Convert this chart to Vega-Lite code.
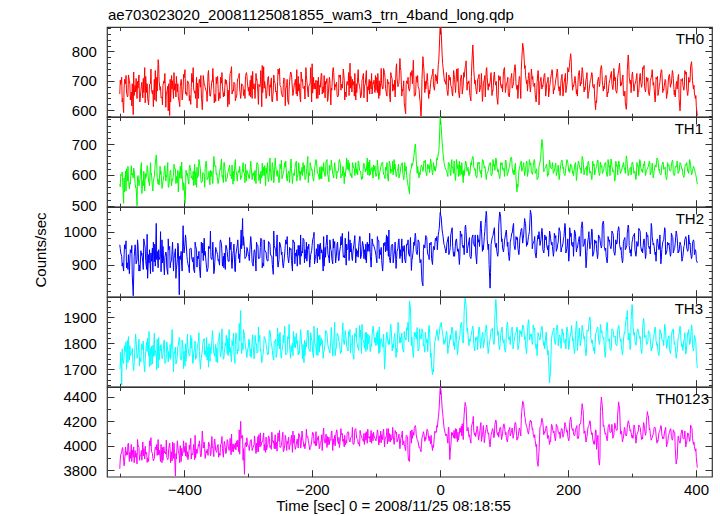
{
"padding": {"left": 33, "top": 7, "right": 8, "bottom": 5},
"background": "white",
"spacing": 0,
"bounds": "flush",
"title": {"text": "ae703023020_20081125081855_wam3_trn_4band_long.qdp", "anchor": "start", "frame": "group", "baseline": "alphabetic", "offset": -9, "dx": 1},
"config": {
 "font": "Liberation Sans",
 "view": {"stroke": "#333", "strokeWidth": 1.2},
 "axis": {"domain": false, "grid": false, "tickColor": "#333", "tickWidth": 1, "labelFont": "Liberation Sans", "labelFontSize": 15, "labelColor": "#000", "titleFont": "Liberation Sans", "titleFontSize": 15, "titleFontWeight": "normal", "titleColor": "#000"},
 "title": {"font": "Liberation Sans", "fontSize": 15, "fontWeight": "normal", "color": "#000"}
},
"data": {"values": [
{"t":-501,"a":655,"b":570,"c":960,"d":1700,"e":3810},
{"t":-498,"a":712,"b":598,"c":925,"d":1640,"e":3950},
{"t":-495,"a":592,"b":508,"c":880,"d":1722,"e":3880},
{"t":-492,"a":690,"b":612,"c":948,"d":1768,"e":3990},
{"t":-489,"a":645,"b":580,"c":905,"d":1810,"e":3925},
{"t":-486,"a":700,"b":555,"c":872,"d":1735,"e":3870},
{"t":-483,"a":662,"b":630,"c":935,"d":1760,"e":4010},
{"t":-480,"a":585,"b":590,"c":805,"d":1700,"e":3905},
{"t":-477,"a":685,"b":572,"c":960,"d":1795,"e":3960},
{"t":-474,"a":640,"b":500,"c":915,"d":1742,"e":3850},
{"t":-471,"a":720,"b":565,"c":880,"d":1815,"e":3985},
{"t":-468,"a":668,"b":625,"c":942,"d":1728,"e":3920},
{"t":-465,"a":642,"b":582,"c":905,"d":1775,"e":4030},
{"t":-462,"a":745,"b":548,"c":960,"d":1690,"e":3890},
{"t":-459,"a":660,"b":600,"c":885,"d":1805,"e":3945},
{"t":-456,"a":618,"b":578,"c":930,"d":1750,"e":3870},
{"t":-453,"a":690,"b":640,"c":872,"d":1780,"e":4000},
{"t":-450,"a":655,"b":560,"c":950,"d":1720,"e":3935},
{"t":-447,"a":705,"b":595,"c":908,"d":1838,"e":3895},
{"t":-444,"a":630,"b":665,"c":1025,"d":1755,"e":3965},
{"t":-441,"a":772,"b":570,"c":890,"d":1705,"e":4050},
{"t":-438,"a":668,"b":628,"c":925,"d":1790,"e":3910},
{"t":-435,"a":645,"b":556,"c":975,"d":1740,"e":3860},
{"t":-432,"a":700,"b":598,"c":895,"d":1810,"e":3990},
{"t":-429,"a":610,"b":580,"c":938,"d":1725,"e":3930},
{"t":-426,"a":682,"b":640,"c":870,"d":1770,"e":3885},
{"t":-423,"a":582,"b":592,"c":955,"d":1745,"e":4020},
{"t":-420,"a":718,"b":565,"c":912,"d":1800,"e":3950},
{"t":-417,"a":640,"b":603,"c":880,"d":1690,"e":3895},
{"t":-414,"a":690,"b":620,"c":948,"d":1785,"e":3750},
{"t":-411,"a":662,"b":575,"c":915,"d":1750,"e":4040},
{"t":-408,"a":625,"b":610,"c":808,"d":1822,"e":3920},
{"t":-405,"a":705,"b":588,"c":940,"d":1735,"e":3870},
{"t":-402,"a":672,"b":550,"c":1018,"d":1775,"e":3960},
{"t":-399,"a":738,"b":508,"c":965,"d":1712,"e":3995},
{"t":-396,"a":650,"b":598,"c":925,"d":1795,"e":3905},
{"t":-393,"a":688,"b":570,"c":890,"d":1760,"e":3940},
{"t":-390,"a":620,"b":612,"c":950,"d":1830,"e":4060},
{"t":-387,"a":695,"b":585,"c":908,"d":1722,"e":3925},
{"t":-384,"a":658,"b":635,"c":875,"d":1780,"e":3885},
{"t":-381,"a":712,"b":560,"c":945,"d":1745,"e":3970},
{"t":-378,"a":640,"b":600,"c":918,"d":1805,"e":4010},
{"t":-375,"a":678,"b":620,"c":860,"d":1700,"e":3935},
{"t":-372,"a":602,"b":578,"c":935,"d":1770,"e":4120},
{"t":-369,"a":690,"b":602,"c":980,"d":1818,"e":4030},
{"t":-366,"a":665,"b":645,"c":905,"d":1748,"e":3955},
{"t":-363,"a":725,"b":590,"c":890,"d":1785,"e":3920},
{"t":-360,"a":648,"b":568,"c":948,"d":1730,"e":3990},
{"t":-357,"a":700,"b":612,"c":915,"d":1810,"e":4075},
{"t":-354,"a":672,"b":660,"c":872,"d":1760,"e":3910},
{"t":-351,"a":630,"b":630,"c":952,"d":1795,"e":3960},
{"t":-348,"a":715,"b":582,"c":930,"d":1725,"e":4005},
{"t":-345,"a":660,"b":608,"c":898,"d":1840,"e":3940},
{"t":-342,"a":692,"b":652,"c":962,"d":1775,"e":4020},
{"t":-339,"a":645,"b":575,"c":925,"d":1738,"e":3905},
{"t":-336,"a":705,"b":605,"c":885,"d":1800,"e":3985},
{"t":-333,"a":678,"b":590,"c":940,"d":1760,"e":4050},
{"t":-330,"a":620,"b":625,"c":910,"d":1852,"e":3960},
{"t":-327,"a":735,"b":600,"c":968,"d":1745,"e":3925},
{"t":-324,"a":668,"b":570,"c":935,"d":1790,"e":4015},
{"t":-321,"a":690,"b":640,"c":880,"d":1722,"e":3975},
{"t":-318,"a":652,"b":598,"c":950,"d":1815,"e":4040},
{"t":-315,"a":712,"b":615,"c":918,"d":1770,"e":3950},
{"t":-312,"a":640,"b":585,"c":965,"d":1925,"e":4200},
{"t":-309,"a":685,"b":622,"c":1040,"d":1800,"e":4085},
{"t":-306,"a":670,"b":605,"c":945,"d":1830,"e":3765},
{"t":-303,"a":728,"b":580,"c":925,"d":1765,"e":3990},
{"t":-300,"a":665,"b":600,"c":930,"d":1785,"e":3995},
{"t":-297,"a":702,"b":622,"c":965,"d":1750,"e":4040},
{"t":-294,"a":640,"b":585,"c":905,"d":1812,"e":3960},
{"t":-291,"a":690,"b":610,"c":942,"d":1740,"e":4010},
{"t":-288,"a":725,"b":572,"c":880,"d":1795,"e":3935},
{"t":-285,"a":658,"b":635,"c":958,"d":1768,"e":4075},
{"t":-282,"a":680,"b":602,"c":920,"d":1830,"e":3990},
{"t":-279,"a":612,"b":590,"c":975,"d":1725,"e":4030},
{"t":-276,"a":748,"b":625,"c":895,"d":1780,"e":4105},
{"t":-273,"a":670,"b":565,"c":938,"d":1812,"e":3945},
{"t":-270,"a":695,"b":640,"c":910,"d":1755,"e":4000},
{"t":-267,"a":648,"b":608,"c":965,"d":1850,"e":4060},
{"t":-264,"a":710,"b":582,"c":925,"d":1790,"e":3970},
{"t":-261,"a":665,"b":615,"c":870,"d":1738,"e":4020},
{"t":-258,"a":690,"b":655,"c":948,"d":1805,"e":4090},
{"t":-255,"a":632,"b":595,"c":990,"d":1770,"e":3955},
{"t":-252,"a":722,"b":575,"c":915,"d":1835,"e":4035},
{"t":-249,"a":678,"b":620,"c":950,"d":1748,"e":3990},
{"t":-246,"a":645,"b":600,"c":898,"d":1795,"e":4110},
{"t":-243,"a":705,"b":640,"c":935,"d":1865,"e":4005},
{"t":-240,"a":685,"b":588,"c":962,"d":1760,"e":3960},
{"t":-237,"a":620,"b":612,"c":905,"d":1815,"e":4070},
{"t":-234,"a":730,"b":630,"c":945,"d":1742,"e":4025},
{"t":-231,"a":668,"b":572,"c":880,"d":1800,"e":3945},
{"t":-228,"a":692,"b":598,"c":968,"d":1785,"e":4085},
{"t":-225,"a":655,"b":645,"c":925,"d":1838,"e":4010},
{"t":-222,"a":715,"b":605,"c":958,"d":1755,"e":3980},
{"t":-219,"a":640,"b":582,"c":900,"d":1820,"e":4055},
{"t":-216,"a":698,"b":625,"c":940,"d":1775,"e":4120},
{"t":-213,"a":675,"b":610,"c":975,"d":1725,"e":3990},
{"t":-210,"a":745,"b":590,"c":918,"d":1805,"e":4040},
{"t":-207,"a":660,"b":660,"c":955,"d":1850,"e":4075},
{"t":-204,"a":688,"b":598,"c":892,"d":1770,"e":3965},
{"t":-201,"a":628,"b":615,"c":942,"d":1812,"e":4030},
{"t":-198,"a":712,"b":580,"c":985,"d":1745,"e":4095},
{"t":-195,"a":672,"b":640,"c":925,"d":1790,"e":4000},
{"t":-192,"a":700,"b":605,"c":905,"d":1858,"e":4065},
{"t":-189,"a":652,"b":585,"c":960,"d":1765,"e":3975},
{"t":-186,"a":725,"b":628,"c":935,"d":1820,"e":4040},
{"t":-183,"a":680,"b":612,"c":880,"d":1742,"e":4110},
{"t":-180,"a":642,"b":595,"c":952,"d":1800,"e":4020},
{"t":-177,"a":708,"b":650,"c":990,"d":1835,"e":3985},
{"t":-174,"a":690,"b":578,"c":918,"d":1775,"e":4070},
{"t":-171,"a":618,"b":620,"c":945,"d":1812,"e":4045},
{"t":-168,"a":735,"b":602,"c":902,"d":1750,"e":3960},
{"t":-165,"a":668,"b":640,"c":970,"d":1880,"e":4085},
{"t":-162,"a":695,"b":588,"c":935,"d":1790,"e":4130},
{"t":-159,"a":650,"b":615,"c":912,"d":1822,"e":4015},
{"t":-156,"a":720,"b":635,"c":955,"d":1760,"e":4060},
{"t":-153,"a":675,"b":598,"c":995,"d":1845,"e":4100},
{"t":-150,"a":702,"b":572,"c":928,"d":1795,"e":3990},
{"t":-147,"a":645,"b":625,"c":898,"d":1815,"e":4045},
{"t":-144,"a":685,"b":648,"c":948,"d":1770,"e":4115},
{"t":-141,"a":760,"b":605,"c":975,"d":1852,"e":4030},
{"t":-138,"a":662,"b":590,"c":920,"d":1800,"e":4075},
{"t":-135,"a":698,"b":622,"c":960,"d":1738,"e":4010},
{"t":-132,"a":635,"b":640,"c":905,"d":1825,"e":4140},
{"t":-129,"a":712,"b":600,"c":942,"d":1785,"e":4050},
{"t":-126,"a":680,"b":615,"c":985,"d":1868,"e":3995},
{"t":-123,"a":655,"b":585,"c":930,"d":1760,"e":4080},
{"t":-120,"a":725,"b":632,"c":955,"d":1812,"e":4035},
{"t":-117,"a":690,"b":610,"c":915,"d":1840,"e":4105},
{"t":-114,"a":628,"b":655,"c":968,"d":1775,"e":4020},
{"t":-111,"a":705,"b":598,"c":940,"d":1830,"e":4065},
{"t":-108,"a":672,"b":620,"c":892,"d":1795,"e":4125},
{"t":-105,"a":695,"b":590,"c":958,"d":1865,"e":4040},
{"t":-102,"a":660,"b":630,"c":945,"d":1800,"e":4060},
{"t":-99,"a":712,"b":605,"c":905,"d":1840,"e":4090},
{"t":-96,"a":640,"b":585,"c":972,"d":1760,"e":4005},
{"t":-93,"a":695,"b":625,"c":930,"d":1815,"e":4120},
{"t":-90,"a":672,"b":642,"c":880,"d":1785,"e":4050},
{"t":-87,"a":728,"b":598,"c":958,"d":1700,"e":3990},
{"t":-84,"a":655,"b":615,"c":990,"d":1830,"e":4085},
{"t":-81,"a":690,"b":580,"c":925,"d":1795,"e":4140},
{"t":-78,"a":628,"b":630,"c":905,"d":1855,"e":4030},
{"t":-75,"a":705,"b":612,"c":962,"d":1770,"e":4065},
{"t":-72,"a":668,"b":650,"c":935,"d":1820,"e":4010},
{"t":-69,"a":742,"b":595,"c":888,"d":1745,"e":4100},
{"t":-66,"a":680,"b":620,"c":950,"d":1880,"e":4055},
{"t":-63,"a":776,"b":603,"c":918,"d":1800,"e":3975},
{"t":-60,"a":648,"b":638,"c":978,"d":1838,"e":4090},
{"t":-57,"a":700,"b":585,"c":940,"d":1765,"e":4040},
{"t":-54,"a":588,"b":612,"c":905,"d":1812,"e":3960},
{"t":-51,"a":690,"b":575,"c":960,"d":1850,"e":4075},
{"t":-48,"a":665,"b":538,"c":925,"d":1962,"e":3870},
{"t":-45,"a":718,"b":622,"c":882,"d":1790,"e":4020},
{"t":-42,"a":770,"b":645,"c":945,"d":1745,"e":4110},
{"t":-39,"a":650,"b":700,"c":995,"d":1825,"e":4165},
{"t":-36,"a":695,"b":605,"c":930,"d":1860,"e":4050},
{"t":-33,"a":672,"b":590,"c":968,"d":1778,"e":3985},
{"t":-30,"a":580,"b":628,"c":915,"d":1815,"e":3950},
{"t":-27,"a":782,"b":612,"c":835,"d":1840,"e":4090},
{"t":-24,"a":660,"b":640,"c":950,"d":1765,"e":4035},
{"t":-21,"a":705,"b":598,"c":982,"d":1800,"e":4120},
{"t":-18,"a":640,"b":620,"c":925,"d":1855,"e":4060},
{"t":-15,"a":690,"b":652,"c":960,"d":1745,"e":4015},
{"t":-12,"a":725,"b":600,"c":900,"d":1680,"e":3960},
{"t":-9,"a":668,"b":615,"c":945,"d":1790,"e":4085},
{"t":-6,"a":700,"b":632,"c":972,"d":1835,"e":4110},
{"t":-3,"a":755,"b":668,"c":990,"d":1810,"e":4230},
{"t":0,"a":895,"b":790,"c":1058,"d":1870,"e":4485},
{"t":3,"a":790,"b":705,"c":1005,"d":1850,"e":4310},
{"t":6,"a":712,"b":640,"c":960,"d":1795,"e":4150},
{"t":9,"a":688,"b":618,"c":935,"d":1830,"e":4080},
{"t":12,"a":650,"b":595,"c":978,"d":1760,"e":4020},
{"t":15,"a":702,"b":628,"c":942,"d":1815,"e":3885},
{"t":18,"a":675,"b":650,"c":1005,"d":1862,"e":4110},
{"t":21,"a":735,"b":605,"c":925,"d":1790,"e":4065},
{"t":24,"a":660,"b":582,"c":968,"d":1835,"e":4140},
{"t":27,"a":698,"b":620,"c":940,"d":1755,"e":4030},
{"t":30,"a":642,"b":645,"c":900,"d":1820,"e":4095},
{"t":33,"a":720,"b":602,"c":985,"d":1880,"e":4160},
{"t":36,"a":685,"b":575,"c":950,"d":1800,"e":4050},
{"t":39,"a":745,"b":630,"c":1015,"d":1972,"e":4355},
{"t":42,"a":668,"b":612,"c":935,"d":1845,"e":4120},
{"t":45,"a":700,"b":598,"c":972,"d":1790,"e":4075},
{"t":48,"a":632,"b":640,"c":918,"d":1825,"e":4020},
{"t":51,"a":822,"b":660,"c":990,"d":1865,"e":4200},
{"t":54,"a":690,"b":615,"c":955,"d":1770,"e":4085},
{"t":57,"a":655,"b":590,"c":902,"d":1812,"e":4130},
{"t":60,"a":712,"b":635,"c":968,"d":1850,"e":4045},
{"t":63,"a":678,"b":605,"c":1020,"d":1780,"e":4170},
{"t":66,"a":630,"b":650,"c":940,"d":1838,"e":4090},
{"t":69,"a":705,"b":622,"c":985,"d":1805,"e":4025},
{"t":72,"a":740,"b":585,"c":1062,"d":1870,"e":4150},
{"t":75,"a":668,"b":612,"c":945,"d":1760,"e":4095},
{"t":78,"a":695,"b":640,"c":828,"d":1815,"e":3990},
{"t":81,"a":650,"b":600,"c":978,"d":1848,"e":4120},
{"t":84,"a":718,"b":628,"c":1005,"d":1795,"e":4065},
{"t":87,"a":685,"b":655,"c":952,"d":1968,"e":4210},
{"t":90,"a":620,"b":610,"c":925,"d":1830,"e":4085},
{"t":93,"a":702,"b":588,"c":1060,"d":1775,"e":4140},
{"t":96,"a":675,"b":632,"c":970,"d":1852,"e":4050},
{"t":99,"a":732,"b":615,"c":938,"d":1800,"e":4175},
{"t":102,"a":660,"b":645,"c":990,"d":1765,"e":4090},
{"t":105,"a":698,"b":598,"c":955,"d":1880,"e":4030},
{"t":108,"a":645,"b":625,"c":912,"d":1812,"e":4135},
{"t":111,"a":712,"b":658,"c":982,"d":1845,"e":4105},
{"t":114,"a":685,"b":605,"c":1018,"d":1778,"e":4060},
{"t":117,"a":755,"b":630,"c":945,"d":1828,"e":4190},
{"t":120,"a":670,"b":545,"c":975,"d":1862,"e":4045},
{"t":123,"a":700,"b":612,"c":930,"d":1795,"e":4120},
{"t":126,"a":640,"b":640,"c":1000,"d":1835,"e":4080},
{"t":129,"a":828,"b":622,"c":965,"d":1870,"e":4365},
{"t":132,"a":742,"b":598,"c":1040,"d":1812,"e":4245},
{"t":135,"a":690,"b":645,"c":955,"d":1760,"e":4160},
{"t":138,"a":718,"b":618,"c":985,"d":1890,"e":4095},
{"t":141,"a":662,"b":632,"c":1065,"d":1825,"e":4210},
{"t":144,"a":705,"b":602,"c":948,"d":1795,"e":4130},
{"t":147,"a":680,"b":650,"c":972,"d":1850,"e":4065},
{"t":150,"a":628,"b":615,"c":920,"d":1778,"e":3990},
{"t":153,"a":735,"b":590,"c":990,"d":1840,"e":3830},
{"t":156,"a":695,"b":640,"c":958,"d":1812,"e":4150},
{"t":159,"a":672,"b":715,"c":1010,"d":1865,"e":4225},
{"t":162,"a":710,"b":610,"c":935,"d":1790,"e":4090},
{"t":165,"a":648,"b":625,"c":975,"d":1830,"e":4140},
{"t":168,"a":700,"b":595,"c":945,"d":1755,"e":4060},
{"t":171,"a":678,"b":648,"c":1002,"d":1648,"e":4010},
{"t":174,"a":725,"b":620,"c":960,"d":1818,"e":4175},
{"t":177,"a":655,"b":605,"c":925,"d":1850,"e":4105},
{"t":180,"a":690,"b":632,"c":980,"d":1795,"e":4040},
{"t":183,"a":740,"b":612,"c":950,"d":1870,"e":4160},
{"t":186,"a":665,"b":585,"c":1012,"d":1825,"e":4095},
{"t":189,"a":702,"b":640,"c":938,"d":1780,"e":4125},
{"t":192,"a":648,"b":620,"c":965,"d":1832,"e":4070},
{"t":195,"a":712,"b":598,"c":1025,"d":1800,"e":4190},
{"t":198,"a":685,"b":650,"c":948,"d":1862,"e":4110},
{"t":201,"a":730,"b":612,"c":910,"d":1775,"e":4040},
{"t":204,"a":792,"b":635,"c":985,"d":1840,"e":4235},
{"t":207,"a":668,"b":605,"c":955,"d":1808,"e":4125},
{"t":210,"a":700,"b":628,"c":1005,"d":1760,"e":4080},
{"t":213,"a":655,"b":582,"c":938,"d":1885,"e":4155},
{"t":216,"a":718,"b":645,"c":970,"d":1822,"e":4060},
{"t":219,"a":682,"b":618,"c":925,"d":1790,"e":4175},
{"t":222,"a":745,"b":660,"c":1030,"d":1868,"e":4345},
{"t":225,"a":662,"b":600,"c":960,"d":1815,"e":4100},
{"t":228,"a":705,"b":622,"c":890,"d":1752,"e":4030},
{"t":231,"a":640,"b":640,"c":975,"d":1845,"e":4145},
{"t":234,"a":690,"b":605,"c":948,"d":1900,"e":4205},
{"t":237,"a":728,"b":585,"c":1008,"d":1800,"e":4090},
{"t":240,"a":675,"b":630,"c":935,"d":1770,"e":4015},
{"t":243,"a":602,"b":615,"c":965,"d":1835,"e":4130},
{"t":246,"a":698,"b":648,"c":918,"d":1862,"e":4070},
{"t":249,"a":680,"b":598,"c":985,"d":1795,"e":3840},
{"t":252,"a":752,"b":625,"c":950,"d":1840,"e":4400},
{"t":255,"a":665,"b":612,"c":1032,"d":1818,"e":4160},
{"t":258,"a":712,"b":640,"c":942,"d":1745,"e":4095},
{"t":261,"a":645,"b":595,"c":905,"d":1880,"e":4040},
{"t":264,"a":690,"b":625,"c":970,"d":1810,"e":4175},
{"t":267,"a":725,"b":652,"c":948,"d":1772,"e":4110},
{"t":270,"a":670,"b":610,"c":995,"d":1850,"e":4060},
{"t":273,"a":700,"b":580,"c":928,"d":1825,"e":4185},
{"t":276,"a":658,"b":628,"c":962,"d":1790,"e":4125},
{"t":279,"a":735,"b":645,"c":1015,"d":1868,"e":4360},
{"t":282,"a":682,"b":605,"c":945,"d":1805,"e":4095},
{"t":285,"a":710,"b":630,"c":905,"d":1755,"e":4030},
{"t":288,"a":648,"b":618,"c":978,"d":1842,"e":4150},
{"t":291,"a":603,"b":662,"c":952,"d":1900,"e":4080},
{"t":294,"a":788,"b":598,"c":1020,"d":1812,"e":4205},
{"t":297,"a":690,"b":622,"c":935,"d":1775,"e":4120},
{"t":300,"a":722,"b":640,"c":968,"d":1948,"e":4065},
{"t":303,"a":665,"b":605,"c":990,"d":1830,"e":4170},
{"t":306,"a":700,"b":585,"c":925,"d":1792,"e":4020},
{"t":309,"a":645,"b":628,"c":955,"d":1855,"e":4110},
{"t":312,"a":715,"b":650,"c":1005,"d":1818,"e":4155},
{"t":315,"a":678,"b":612,"c":940,"d":1760,"e":4050},
{"t":318,"a":740,"b":635,"c":972,"d":1895,"e":4190},
{"t":321,"a":662,"b":598,"c":918,"d":1825,"e":4085},
{"t":324,"a":698,"b":620,"c":985,"d":1798,"e":4280},
{"t":327,"a":650,"b":645,"c":948,"d":1842,"e":4130},
{"t":330,"a":712,"b":610,"c":1025,"d":1770,"e":4045},
{"t":333,"a":685,"b":590,"c":960,"d":1815,"e":4095},
{"t":336,"a":628,"b":632,"c":930,"d":1862,"e":4150},
{"t":339,"a":705,"b":655,"c":975,"d":1790,"e":4020},
{"t":342,"a":672,"b":615,"c":945,"d":1752,"e":4105},
{"t":345,"a":728,"b":600,"c":902,"d":1835,"e":4165},
{"t":348,"a":660,"b":642,"c":968,"d":1808,"e":4055},
{"t":351,"a":695,"b":622,"c":1012,"d":1872,"e":4120},
{"t":354,"a":640,"b":585,"c":938,"d":1780,"e":3990},
{"t":357,"a":710,"b":630,"c":960,"d":1825,"e":4085},
{"t":360,"a":678,"b":612,"c":925,"d":1760,"e":4140},
{"t":363,"a":735,"b":648,"c":985,"d":1850,"e":4045},
{"t":366,"a":652,"b":598,"c":948,"d":1795,"e":4110},
{"t":369,"a":690,"b":625,"c":1002,"d":1742,"e":3850},
{"t":372,"a":715,"b":605,"c":935,"d":1820,"e":4075},
{"t":375,"a":598,"b":640,"c":968,"d":1865,"e":4020},
{"t":378,"a":700,"b":618,"c":910,"d":1785,"e":4130},
{"t":381,"a":668,"b":592,"c":955,"d":1812,"e":4055},
{"t":384,"a":722,"b":635,"c":985,"d":1758,"e":3990},
{"t":387,"a":650,"b":612,"c":940,"d":1840,"e":4105},
{"t":390,"a":695,"b":650,"c":962,"d":1795,"e":4035},
{"t":393,"a":765,"b":600,"c":918,"d":1870,"e":4150},
{"t":396,"a":672,"b":628,"c":975,"d":1770,"e":4010},
{"t":399,"a":640,"b":605,"c":945,"d":1815,"e":3955},
{"t":402,"a":582,"b":570,"c":905,"d":1705,"e":3820},
{"t":-499.5,"a":688,"b":602,"c":935,"d":1765,"e":3925},
{"t":-496.5,"a":640,"b":575,"c":905,"d":1735,"e":3985},
{"t":-493.5,"a":705,"b":545,"c":960,"d":1790,"e":3870},
{"t":-490.5,"a":662,"b":620,"c":890,"d":1700,"e":3950},
{"t":-487.5,"a":720,"b":590,"c":930,"d":1825,"e":4020},
{"t":-484.5,"a":635,"b":570,"c":945,"d":1752,"e":3895},
{"t":-481.5,"a":690,"b":605,"c":868,"d":1780,"e":3965},
{"t":-478.5,"a":650,"b":615,"c":925,"d":1725,"e":3860},
{"t":-475.5,"a":708,"b":560,"c":902,"d":1810,"e":3940},
{"t":-472.5,"a":675,"b":598,"c":958,"d":1760,"e":4005},
{"t":-469.5,"a":628,"b":585,"c":880,"d":1745,"e":3915},
{"t":-466.5,"a":695,"b":540,"c":935,"d":1798,"e":3880},
{"t":-463.5,"a":660,"b":612,"c":978,"d":1732,"e":3975},
{"t":-460.5,"a":715,"b":588,"c":912,"d":1768,"e":3930},
{"t":-457.5,"a":642,"b":625,"c":858,"d":1820,"e":3900},
{"t":-454.5,"a":688,"b":565,"c":945,"d":1710,"e":4040},
{"t":-451.5,"a":670,"b":605,"c":910,"d":1788,"e":3955},
{"t":-448.5,"a":612,"b":580,"c":968,"d":1748,"e":3875},
{"t":-445.5,"a":735,"b":635,"c":895,"d":1772,"e":3990},
{"t":-442.5,"a":665,"b":590,"c":940,"d":1815,"e":3920},
{"t":-439.5,"a":698,"b":568,"c":915,"d":1735,"e":3965},
{"t":-436.5,"a":642,"b":612,"c":878,"d":1795,"e":4010},
{"t":-433.5,"a":685,"b":578,"c":955,"d":1758,"e":3880},
{"t":-430.5,"a":725,"b":630,"c":922,"d":1722,"e":3950},
{"t":-427.5,"a":658,"b":595,"c":890,"d":1805,"e":3905},
{"t":-424.5,"a":690,"b":560,"c":945,"d":1768,"e":3975},
{"t":-421.5,"a":628,"b":615,"c":905,"d":1738,"e":3860},
{"t":-418.5,"a":700,"b":582,"c":968,"d":1812,"e":4030},
{"t":-415.5,"a":668,"b":620,"c":928,"d":1760,"e":3935},
{"t":-412.5,"a":715,"b":595,"c":885,"d":1725,"e":3890},
{"t":-409.5,"a":645,"b":545,"c":958,"d":1790,"e":3960},
{"t":-406.5,"a":680,"b":628,"c":915,"d":1748,"e":4000},
{"t":-403.5,"a":635,"b":600,"c":880,"d":1812,"e":3915},
{"t":-400.5,"a":710,"b":570,"c":935,"d":1770,"e":3945},
{"t":-397.5,"a":662,"b":615,"c":975,"d":1730,"e":4025},
{"t":-394.5,"a":698,"b":588,"c":902,"d":1785,"e":3885},
{"t":-391.5,"a":650,"b":632,"c":948,"d":1752,"e":3970},
{"t":-388.5,"a":725,"b":595,"c":920,"d":1820,"e":3935},
{"t":-385.5,"a":672,"b":565,"c":885,"d":1765,"e":4010},
{"t":-382.5,"a":640,"b":610,"c":958,"d":1738,"e":3900},
{"t":-379.5,"a":692,"b":590,"c":925,"d":1795,"e":3955},
{"t":-376.5,"a":705,"b":640,"c":895,"d":1768,"e":4040},
{"t":-373.5,"a":655,"b":575,"c":968,"d":1742,"e":3925},
{"t":-370.5,"a":718,"b":605,"c":912,"d":1808,"e":3980},
{"t":-367.5,"a":678,"b":622,"c":940,"d":1772,"e":3895},
{"t":-364.5,"a":630,"b":585,"c":878,"d":1735,"e":3970},
{"t":-361.5,"a":695,"b":612,"c":955,"d":1798,"e":4020},
{"t":-358.5,"a":665,"b":595,"c":920,"d":1760,"e":3930},
{"t":-355.5,"a":742,"b":572,"c":968,"d":1825,"e":3990},
{"t":-352.5,"a":655,"b":628,"c":905,"d":1750,"e":4055},
{"t":-349.5,"a":690,"b":605,"c":940,"d":1782,"e":3945},
{"t":-346.5,"a":632,"b":582,"c":915,"d":1810,"e":3905},
{"t":-343.5,"a":712,"b":618,"c":975,"d":1748,"e":4010},
{"t":-340.5,"a":680,"b":598,"c":895,"d":1792,"e":3975},
{"t":-337.5,"a":648,"b":640,"c":935,"d":1765,"e":4035},
{"t":-334.5,"a":702,"b":585,"c":958,"d":1830,"e":3940},
{"t":-331.5,"a":668,"b":612,"c":910,"d":1752,"e":3995},
{"t":-328.5,"a":725,"b":598,"c":945,"d":1785,"e":4060},
{"t":-325.5,"a":655,"b":632,"c":888,"d":1810,"e":3950},
{"t":-322.5,"a":695,"b":580,"c":962,"d":1762,"e":4010},
{"t":-319.5,"a":640,"b":615,"c":930,"d":1840,"e":3965},
{"t":-316.5,"a":708,"b":605,"c":975,"d":1775,"e":4045},
{"t":-313.5,"a":672,"b":628,"c":905,"d":1808,"e":3930},
{"t":-310.5,"a":690,"b":592,"c":948,"d":1760,"e":4080},
{"t":-307.5,"a":650,"b":610,"c":985,"d":1852,"e":3975},
{"t":-304.5,"a":715,"b":635,"c":920,"d":1790,"e":4025},
{"t":-301.5,"a":695,"b":610,"c":948,"d":1770,"e":4015},
{"t":-298.5,"a":650,"b":588,"c":912,"d":1812,"e":3960},
{"t":-295.5,"a":718,"b":625,"c":970,"d":1745,"e":4050},
{"t":-292.5,"a":672,"b":598,"c":895,"d":1790,"e":3985},
{"t":-289.5,"a":640,"b":615,"c":935,"d":1830,"e":4025},
{"t":-286.5,"a":705,"b":640,"c":960,"d":1762,"e":3950},
{"t":-283.5,"a":688,"b":582,"c":918,"d":1805,"e":4090},
{"t":-280.5,"a":735,"b":612,"c":980,"d":1775,"e":3995},
{"t":-277.5,"a":660,"b":598,"c":905,"d":1748,"e":4045},
{"t":-274.5,"a":698,"b":630,"c":945,"d":1820,"e":4010},
{"t":-271.5,"a":645,"b":605,"c":918,"d":1785,"e":3965},
{"t":-268.5,"a":715,"b":578,"c":970,"d":1758,"e":4080},
{"t":-265.5,"a":678,"b":622,"c":932,"d":1835,"e":4000},
{"t":-262.5,"a":628,"b":640,"c":900,"d":1772,"e":4050},
{"t":-259.5,"a":702,"b":592,"c":958,"d":1808,"e":3975},
{"t":-256.5,"a":665,"b":615,"c":925,"d":1745,"e":4030},
{"t":-253.5,"a":740,"b":600,"c":892,"d":1790,"e":4105},
{"t":-250.5,"a":685,"b":635,"c":965,"d":1842,"e":3985},
{"t":-247.5,"a":652,"b":588,"c":938,"d":1768,"e":4040},
{"t":-244.5,"a":710,"b":612,"c":905,"d":1800,"e":3960},
{"t":-241.5,"a":672,"b":645,"c":975,"d":1755,"e":4065},
{"t":-238.5,"a":635,"b":598,"c":928,"d":1825,"e":4015},
{"t":-235.5,"a":698,"b":575,"c":952,"d":1790,"e":3990},
{"t":-232.5,"a":722,"b":620,"c":912,"d":1768,"e":4085},
{"t":-229.5,"a":660,"b":605,"c":968,"d":1845,"e":4020},
{"t":-226.5,"a":705,"b":632,"c":935,"d":1782,"e":3970},
{"t":-223.5,"a":648,"b":592,"c":895,"d":1810,"e":4055},
{"t":-220.5,"a":690,"b":618,"c":958,"d":1760,"e":4095},
{"t":-217.5,"a":730,"b":602,"c":925,"d":1828,"e":4000},
{"t":-214.5,"a":675,"b":640,"c":980,"d":1795,"e":4045},
{"t":-211.5,"a":638,"b":585,"c":945,"d":1752,"e":3975},
{"t":-208.5,"a":700,"b":622,"c":910,"d":1815,"e":4070},
{"t":-205.5,"a":682,"b":608,"c":962,"d":1778,"e":4020},
{"t":-202.5,"a":745,"b":630,"c":930,"d":1840,"e":3990},
{"t":-199.5,"a":658,"b":595,"c":975,"d":1765,"e":4110},
{"t":-196.5,"a":692,"b":618,"c":902,"d":1802,"e":4035},
{"t":-193.5,"a":640,"b":645,"c":948,"d":1755,"e":4000},
{"t":-190.5,"a":712,"b":602,"c":925,"d":1830,"e":4080},
{"t":-187.5,"a":678,"b":588,"c":965,"d":1788,"e":4025},
{"t":-184.5,"a":655,"b":625,"c":940,"d":1812,"e":3960},
{"t":-181.5,"a":718,"b":610,"c":895,"d":1768,"e":4060},
{"t":-178.5,"a":690,"b":642,"c":958,"d":1848,"e":4095},
{"t":-175.5,"a":635,"b":598,"c":932,"d":1790,"e":4005},
{"t":-172.5,"a":702,"b":615,"c":975,"d":1762,"e":4050},
{"t":-169.5,"a":668,"b":632,"c":918,"d":1822,"e":4120},
{"t":-166.5,"a":728,"b":590,"c":950,"d":1795,"e":4010},
{"t":-163.5,"a":680,"b":620,"c":905,"d":1770,"e":4075},
{"t":-160.5,"a":645,"b":608,"c":968,"d":1838,"e":4040},
{"t":-157.5,"a":712,"b":650,"c":935,"d":1802,"e":3985},
{"t":-154.5,"a":688,"b":602,"c":960,"d":1765,"e":4090},
{"t":-151.5,"a":740,"b":625,"c":922,"d":1815,"e":4055},
{"t":-148.5,"a":662,"b":595,"c":980,"d":1848,"e":4005},
{"t":-145.5,"a":698,"b":618,"c":945,"d":1780,"e":4100},
{"t":-142.5,"a":650,"b":640,"c":912,"d":1825,"e":4045},
{"t":-139.5,"a":715,"b":605,"c":965,"d":1792,"e":4070},
{"t":-136.5,"a":685,"b":632,"c":938,"d":1760,"e":4015},
{"t":-133.5,"a":725,"b":598,"c":988,"d":1838,"e":4130},
{"t":-130.5,"a":660,"b":620,"c":925,"d":1805,"e":4060},
{"t":-127.5,"a":695,"b":645,"c":955,"d":1772,"e":4025},
{"t":-124.5,"a":642,"b":612,"c":918,"d":1850,"e":4095},
{"t":-121.5,"a":708,"b":588,"c":970,"d":1815,"e":4050},
{"t":-118.5,"a":680,"b":628,"c":945,"d":1780,"e":4010},
{"t":-115.5,"a":735,"b":615,"c":905,"d":1842,"e":4115},
{"t":-112.5,"a":668,"b":642,"c":962,"d":1798,"e":4065},
{"t":-109.5,"a":700,"b":600,"c":935,"d":1768,"e":4030},
{"t":-106.5,"a":655,"b":625,"c":978,"d":1830,"e":4100},
{"t":-103.5,"a":702,"b":612,"c":955,"d":1825,"e":4080},
{"t":-100.5,"a":668,"b":595,"c":928,"d":1790,"e":4040},
{"t":-97.5,"a":725,"b":630,"c":975,"d":1848,"e":4110},
{"t":-94.5,"a":650,"b":608,"c":945,"d":1765,"e":4025},
{"t":-91.5,"a":690,"b":638,"c":912,"d":1812,"e":4090},
{"t":-88.5,"a":742,"b":602,"c":965,"d":1835,"e":4135},
{"t":-85.5,"a":675,"b":625,"c":938,"d":1775,"e":4060},
{"t":-82.5,"a":705,"b":595,"c":985,"d":1820,"e":4015},
{"t":-79.5,"a":660,"b":645,"c":922,"d":1795,"e":4100},
{"t":-76.5,"a":718,"b":618,"c":955,"d":1852,"e":4045},
{"t":-73.5,"a":688,"b":600,"c":905,"d":1780,"e":4080},
{"t":-70.5,"a":645,"b":635,"c":968,"d":1818,"e":4125},
{"t":-67.5,"a":710,"b":612,"c":940,"d":1765,"e":4030},
{"t":-64.5,"a":692,"b":590,"c":978,"d":1840,"e":4095},
{"t":-61.5,"a":735,"b":628,"c":925,"d":1802,"e":4060},
{"t":-58.5,"a":665,"b":605,"c":955,"d":1775,"e":4005},
{"t":-55.5,"a":612,"b":640,"c":915,"d":1828,"e":3995},
{"t":-52.5,"a":700,"b":598,"c":962,"d":1860,"e":4085},
{"t":-49.5,"a":675,"b":560,"c":935,"d":1805,"e":3880},
{"t":-46.5,"a":728,"b":615,"c":982,"d":1935,"e":4120},
{"t":-43.5,"a":690,"b":630,"c":920,"d":1790,"e":4060},
{"t":-40.5,"a":648,"b":672,"c":958,"d":1842,"e":4140},
{"t":-37.5,"a":715,"b":650,"c":940,"d":1815,"e":4090},
{"t":-34.5,"a":680,"b":615,"c":975,"d":1770,"e":4030},
{"t":-31.5,"a":632,"b":600,"c":905,"d":1832,"e":3975},
{"t":-28.5,"a":705,"b":628,"c":848,"d":1855,"e":4065},
{"t":-25.5,"a":740,"b":645,"c":960,"d":1795,"e":4100},
{"t":-22.5,"a":672,"b":610,"c":988,"d":1822,"e":4050},
{"t":-19.5,"a":698,"b":635,"c":932,"d":1768,"e":4125},
{"t":-16.5,"a":655,"b":608,"c":965,"d":1840,"e":4075},
{"t":-13.5,"a":712,"b":625,"c":918,"d":1710,"e":4020},
{"t":-10.5,"a":685,"b":640,"c":955,"d":1690,"e":3985},
{"t":-7.5,"a":722,"b":612,"c":980,"d":1815,"e":4105},
{"t":-4.5,"a":690,"b":648,"c":945,"d":1845,"e":4150},
{"t":-1.5,"a":805,"b":700,"c":1010,"d":1835,"e":4320},
{"t":1.5,"a":870,"b":760,"c":1045,"d":1880,"e":4440},
{"t":4.5,"a":745,"b":668,"c":985,"d":1825,"e":4230},
{"t":7.5,"a":700,"b":625,"c":950,"d":1800,"e":4110},
{"t":10.5,"a":672,"b":608,"c":965,"d":1842,"e":4085},
{"t":13.5,"a":720,"b":640,"c":930,"d":1785,"e":4150},
{"t":16.5,"a":685,"b":598,"c":990,"d":1812,"e":3990},
{"t":19.5,"a":648,"b":625,"c":955,"d":1850,"e":4105},
{"t":22.5,"a":705,"b":612,"c":925,"d":1775,"e":4060},
{"t":25.5,"a":740,"b":650,"c":978,"d":1828,"e":4135},
{"t":28.5,"a":668,"b":595,"c":945,"d":1800,"e":4045},
{"t":31.5,"a":698,"b":630,"c":1002,"d":1862,"e":4110},
{"t":34.5,"a":655,"b":615,"c":960,"d":1815,"e":4180},
{"t":37.5,"a":712,"b":598,"c":930,"d":1925,"e":4260},
{"t":40.5,"a":768,"b":640,"c":1000,"d":1945,"e":4320},
{"t":43.5,"a":690,"b":625,"c":955,"d":1830,"e":4150},
{"t":46.5,"a":650,"b":605,"c":925,"d":1805,"e":4060},
{"t":49.5,"a":760,"b":648,"c":980,"d":1848,"e":4170},
{"t":52.5,"a":738,"b":625,"c":962,"d":1795,"e":4120},
{"t":55.5,"a":680,"b":600,"c":935,"d":1822,"e":4075},
{"t":58.5,"a":705,"b":640,"c":990,"d":1775,"e":4140},
{"t":61.5,"a":662,"b":618,"c":955,"d":1858,"e":4090},
{"t":64.5,"a":725,"b":592,"c":1010,"d":1810,"e":4035},
{"t":67.5,"a":690,"b":645,"c":945,"d":1782,"e":4165},
{"t":70.5,"a":645,"b":620,"c":1025,"d":1840,"e":4100},
{"t":73.5,"a":712,"b":605,"c":975,"d":1815,"e":4140},
{"t":76.5,"a":680,"b":632,"c":900,"d":1790,"e":4055},
{"t":79.5,"a":728,"b":598,"c":960,"d":1852,"e":4085},
{"t":82.5,"a":665,"b":650,"c":988,"d":1820,"e":4130},
{"t":85.5,"a":700,"b":615,"c":968,"d":1905,"e":4175},
{"t":88.5,"a":648,"b":628,"c":940,"d":1875,"e":4110},
{"t":91.5,"a":718,"b":605,"c":1020,"d":1795,"e":4070},
{"t":94.5,"a":685,"b":640,"c":1045,"d":1830,"e":4150},
{"t":97.5,"a":662,"b":618,"c":950,"d":1812,"e":4095},
{"t":100.5,"a":745,"b":595,"c":972,"d":1782,"e":4160},
{"t":103.5,"a":690,"b":632,"c":1005,"d":1845,"e":4065},
{"t":106.5,"a":655,"b":610,"c":940,"d":1820,"e":4120},
{"t":109.5,"a":708,"b":645,"c":968,"d":1795,"e":4080},
{"t":112.5,"a":675,"b":625,"c":995,"d":1862,"e":4145},
{"t":115.5,"a":728,"b":600,"c":960,"d":1808,"e":4105},
{"t":118.5,"a":690,"b":590,"c":985,"d":1840,"e":4170},
{"t":121.5,"a":640,"b":560,"c":950,"d":1775,"e":4060},
{"t":124.5,"a":712,"b":628,"c":978,"d":1850,"e":4135},
{"t":127.5,"a":770,"b":612,"c":1010,"d":1825,"e":4280},
{"t":130.5,"a":805,"b":640,"c":990,"d":1865,"e":4340},
{"t":133.5,"a":718,"b":618,"c":1025,"d":1790,"e":4190},
{"t":136.5,"a":665,"b":595,"c":960,"d":1848,"e":4125},
{"t":139.5,"a":702,"b":650,"c":1000,"d":1812,"e":4170},
{"t":142.5,"a":740,"b":612,"c":1050,"d":1835,"e":4200},
{"t":145.5,"a":685,"b":630,"c":965,"d":1870,"e":4090},
{"t":148.5,"a":655,"b":605,"c":935,"d":1800,"e":4040},
{"t":151.5,"a":695,"b":585,"c":968,"d":1752,"e":3880},
{"t":154.5,"a":618,"b":628,"c":1000,"d":1825,"e":3950},
{"t":157.5,"a":712,"b":668,"c":975,"d":1845,"e":4165},
{"t":160.5,"a":680,"b":690,"c":945,"d":1818,"e":4190},
{"t":163.5,"a":725,"b":620,"c":990,"d":1778,"e":4105},
{"t":166.5,"a":690,"b":635,"c":958,"d":1805,"e":4160},
{"t":169.5,"a":645,"b":600,"c":925,"d":1730,"e":4080},
{"t":172.5,"a":705,"b":625,"c":980,"d":1690,"e":4030},
{"t":175.5,"a":735,"b":640,"c":955,"d":1840,"e":4145},
{"t":178.5,"a":670,"b":612,"c":995,"d":1812,"e":4095},
{"t":181.5,"a":712,"b":598,"c":940,"d":1850,"e":4175},
{"t":184.5,"a":685,"b":632,"c":968,"d":1790,"e":4110},
{"t":187.5,"a":650,"b":615,"c":1000,"d":1825,"e":4060},
{"t":190.5,"a":722,"b":648,"c":952,"d":1855,"e":4140},
{"t":193.5,"a":690,"b":605,"c":985,"d":1802,"e":4100},
{"t":196.5,"a":660,"b":625,"c":935,"d":1778,"e":4155},
{"t":199.5,"a":745,"b":640,"c":978,"d":1842,"e":4075},
{"t":202.5,"a":762,"b":608,"c":1012,"d":1815,"e":4190},
{"t":205.5,"a":725,"b":630,"c":960,"d":1868,"e":4150},
{"t":208.5,"a":680,"b":598,"c":925,"d":1795,"e":4095},
{"t":211.5,"a":702,"b":640,"c":995,"d":1830,"e":4130},
{"t":214.5,"a":648,"b":615,"c":950,"d":1772,"e":4060},
{"t":217.5,"a":735,"b":632,"c":985,"d":1858,"e":4175},
{"t":220.5,"a":690,"b":605,"c":1010,"d":1812,"e":4240},
{"t":223.5,"a":712,"b":645,"c":955,"d":1840,"e":4290},
{"t":226.5,"a":670,"b":620,"c":978,"d":1788,"e":4120},
{"t":229.5,"a":728,"b":598,"c":940,"d":1850,"e":4075},
{"t":232.5,"a":662,"b":635,"c":1000,"d":1878,"e":4165},
{"t":235.5,"a":705,"b":612,"c":962,"d":1822,"e":4130},
{"t":238.5,"a":682,"b":645,"c":925,"d":1795,"e":4055},
{"t":241.5,"a":645,"b":600,"c":975,"d":1760,"e":4010},
{"t":244.5,"a":625,"b":628,"c":948,"d":1848,"e":3970},
{"t":247.5,"a":712,"b":615,"c":990,"d":1815,"e":3905},
{"t":250.5,"a":735,"b":642,"c":965,"d":1872,"e":4280},
{"t":253.5,"a":700,"b":605,"c":1020,"d":1830,"e":4330},
{"t":256.5,"a":672,"b":630,"c":955,"d":1790,"e":4140},
{"t":259.5,"a":718,"b":612,"c":925,"d":1842,"e":4085},
{"t":262.5,"a":658,"b":650,"c":985,"d":1808,"e":4150},
{"t":265.5,"a":705,"b":598,"c":958,"d":1778,"e":4110},
{"t":268.5,"a":690,"b":628,"c":1002,"d":1855,"e":4175},
{"t":271.5,"a":742,"b":615,"c":940,"d":1822,"e":4090},
{"t":274.5,"a":668,"b":645,"c":975,"d":1795,"e":4140},
{"t":277.5,"a":712,"b":600,"c":998,"d":1850,"e":4255},
{"t":280.5,"a":760,"b":625,"c":960,"d":1830,"e":4310},
{"t":283.5,"a":685,"b":612,"c":928,"d":1782,"e":4120},
{"t":286.5,"a":650,"b":640,"c":970,"d":1812,"e":4060},
{"t":289.5,"a":625,"b":605,"c":945,"d":1868,"e":4095},
{"t":292.5,"a":735,"b":635,"c":995,"d":1925,"e":4150},
{"t":295.5,"a":712,"b":618,"c":958,"d":1838,"e":4175},
{"t":298.5,"a":660,"b":600,"c":925,"d":1890,"e":4105},
{"t":301.5,"a":705,"b":632,"c":985,"d":1862,"e":4060},
{"t":304.5,"a":688,"b":612,"c":945,"d":1810,"e":4135},
{"t":307.5,"a":725,"b":640,"c":970,"d":1842,"e":4090},
{"t":310.5,"a":662,"b":598,"c":1010,"d":1835,"e":4170},
{"t":313.5,"a":698,"b":625,"c":955,"d":1790,"e":4110},
{"t":316.5,"a":745,"b":608,"c":935,"d":1858,"e":4055},
{"t":319.5,"a":680,"b":645,"c":968,"d":1822,"e":4140},
{"t":322.5,"a":712,"b":615,"c":998,"d":1795,"e":4205},
{"t":325.5,"a":665,"b":628,"c":958,"d":1848,"e":4245},
{"t":328.5,"a":700,"b":600,"c":932,"d":1812,"e":4100},
{"t":331.5,"a":738,"b":638,"c":985,"d":1780,"e":4065},
{"t":334.5,"a":675,"b":612,"c":955,"d":1835,"e":4150},
{"t":337.5,"a":712,"b":625,"c":910,"d":1810,"e":4085},
{"t":340.5,"a":650,"b":648,"c":965,"d":1768,"e":4035},
{"t":343.5,"a":695,"b":605,"c":990,"d":1852,"e":4125},
{"t":346.5,"a":735,"b":630,"c":945,"d":1815,"e":4095},
{"t":349.5,"a":668,"b":618,"c":975,"d":1790,"e":4060},
{"t":352.5,"a":702,"b":598,"c":930,"d":1845,"e":4150},
{"t":355.5,"a":658,"b":640,"c":968,"d":1808,"e":4020},
{"t":358.5,"a":722,"b":615,"c":950,"d":1778,"e":4110},
{"t":361.5,"a":690,"b":632,"c":995,"d":1828,"e":4075},
{"t":364.5,"a":708,"b":605,"c":935,"d":1855,"e":4130},
{"t":367.5,"a":645,"b":628,"c":965,"d":1790,"e":3980},
{"t":370.5,"a":672,"b":645,"c":982,"d":1765,"e":3890},
{"t":373.5,"a":640,"b":610,"c":940,"d":1835,"e":4040},
{"t":376.5,"a":705,"b":632,"c":958,"d":1808,"e":4095},
{"t":379.5,"a":685,"b":600,"c":925,"d":1772,"e":4060},
{"t":382.5,"a":735,"b":625,"c":975,"d":1840,"e":4120},
{"t":385.5,"a":672,"b":640,"c":950,"d":1790,"e":4030},
{"t":388.5,"a":712,"b":605,"c":990,"d":1852,"e":4085},
{"t":391.5,"a":748,"b":630,"c":938,"d":1815,"e":4170},
{"t":394.5,"a":700,"b":612,"c":965,"d":1792,"e":4060},
{"t":397.5,"a":658,"b":620,"c":930,"d":1830,"e":3990},
{"t":400.5,"a":612,"b":590,"c":915,"d":1752,"e":3900},
{"t":-500.25,"a":702,"b":562,"c":948,"d":1712,"e":3890},
{"t":-497.25,"a":628,"b":610,"c":895,"d":1778,"e":3975},
{"t":-494.25,"a":675,"b":590,"c":930,"d":1748,"e":3835},
{"t":-491.25,"a":718,"b":548,"c":972,"d":1805,"e":3920},
{"t":-488.25,"a":650,"b":628,"c":885,"d":1725,"e":4015},
{"t":-485.25,"a":688,"b":575,"c":918,"d":1790,"e":3945},
{"t":-482.25,"a":615,"b":600,"c":958,"d":1762,"e":3870},
{"t":-479.25,"a":730,"b":622,"c":862,"d":1695,"e":3990},
{"t":-476.25,"a":662,"b":558,"c":940,"d":1835,"e":3905},
{"t":-473.25,"a":698,"b":592,"c":975,"d":1750,"e":4050},
{"t":-470.25,"a":640,"b":575,"c":898,"d":1712,"e":3880},
{"t":-467.25,"a":682,"b":640,"c":928,"d":1782,"e":3960},
{"t":-464.25,"a":708,"b":565,"c":885,"d":1808,"e":3915},
{"t":-461.25,"a":625,"b":605,"c":950,"d":1735,"e":3995},
{"t":-458.25,"a":690,"b":630,"c":992,"d":1768,"e":3862},
{"t":-455.25,"a":652,"b":575,"c":905,"d":1845,"e":3940},
{"t":-452.25,"a":740,"b":602,"c":935,"d":1715,"e":4065},
{"t":-449.25,"a":668,"b":548,"c":878,"d":1792,"e":3898},
{"t":-446.25,"a":635,"b":618,"c":962,"d":1752,"e":3955},
{"t":-443.25,"a":712,"b":642,"c":915,"d":1698,"e":4010},
{"t":-440.25,"a":755,"b":585,"c":945,"d":1822,"e":3925},
{"t":-437.25,"a":680,"b":602,"c":1000,"d":1770,"e":3870},
{"t":-434.25,"a":618,"b":568,"c":905,"d":1742,"e":3985},
{"t":-431.25,"a":692,"b":625,"c":868,"d":1812,"e":3940},
{"t":-428.25,"a":660,"b":598,"c":932,"d":1758,"e":4045},
{"t":-425.25,"a":598,"b":560,"c":978,"d":1728,"e":3900},
{"t":-422.25,"a":705,"b":612,"c":890,"d":1795,"e":3968},
{"t":-419.25,"a":672,"b":585,"c":942,"d":1852,"e":3875},
{"t":-416.25,"a":728,"b":635,"c":918,"d":1765,"e":4020},
{"t":-413.25,"a":645,"b":572,"c":858,"d":1720,"e":3935},
{"t":-410.25,"a":690,"b":615,"c":965,"d":1788,"e":3990},
{"t":-407.25,"a":612,"b":590,"c":925,"d":1815,"e":3860},
{"t":-404.25,"a":685,"b":642,"c":898,"d":1742,"e":3978},
{"t":-401.25,"a":722,"b":575,"c":955,"d":1702,"e":4040},
{"t":-398.25,"a":655,"b":538,"c":990,"d":1798,"e":3915},
{"t":-395.25,"a":700,"b":605,"c":912,"d":1835,"e":3950},
{"t":-392.25,"a":632,"b":628,"c":875,"d":1752,"e":4005},
{"t":-389.25,"a":678,"b":590,"c":948,"d":1780,"e":3890},
{"t":-386.25,"a":745,"b":612,"c":922,"d":1725,"e":3962},
{"t":-383.25,"a":665,"b":568,"c":968,"d":1808,"e":4085},
{"t":-380.25,"a":608,"b":625,"c":892,"d":1768,"e":3935},
{"t":-377.25,"a":695,"b":650,"c":940,"d":1840,"e":3995},
{"t":-374.25,"a":718,"b":585,"c":905,"d":1732,"e":3908},
{"t":-371.25,"a":640,"b":608,"c":965,"d":1795,"e":4060},
{"t":-368.25,"a":685,"b":560,"c":928,"d":1755,"e":3975},
{"t":-365.25,"a":662,"b":632,"c":888,"d":1822,"e":3940},
{"t":-362.25,"a":735,"b":598,"c":955,"d":1708,"e":4030},
{"t":-359.25,"a":648,"b":615,"c":1002,"d":1785,"e":3918},
{"t":-356.25,"a":698,"b":580,"c":925,"d":1848,"e":3985},
{"t":-353.25,"a":625,"b":645,"c":878,"d":1762,"e":4045},
{"t":-350.25,"a":712,"b":602,"c":945,"d":1728,"e":3955},
{"t":-347.25,"a":675,"b":572,"c":912,"d":1805,"e":4010},
{"t":-344.25,"a":640,"b":620,"c":968,"d":1772,"e":3920},
{"t":-341.25,"a":728,"b":595,"c":935,"d":1855,"e":4075},
{"t":-338.25,"a":660,"b":640,"c":890,"d":1742,"e":3998},
{"t":-335.25,"a":690,"b":578,"c":958,"d":1790,"e":3935},
{"t":-332.25,"a":612,"b":605,"c":922,"d":1818,"e":4040},
{"t":-329.25,"a":702,"b":632,"c":982,"d":1765,"e":3968},
{"t":-326.25,"a":748,"b":588,"c":905,"d":1728,"e":4095},
{"t":-323.25,"a":665,"b":612,"c":942,"d":1838,"e":3950},
{"t":-320.25,"a":632,"b":650,"c":878,"d":1795,"e":4020},
{"t":-317.25,"a":695,"b":580,"c":960,"d":1758,"e":3990},
{"t":-314.25,"a":725,"b":608,"c":932,"d":1875,"e":4130},
{"t":-311.25,"a":655,"b":595,"c":1005,"d":1812,"e":4060},
{"t":-308.25,"a":682,"b":640,"c":958,"d":1775,"e":3880},
{"t":-305.25,"a":640,"b":575,"c":918,"d":1808,"e":4000},
{"t":-302.25,"a":718,"b":615,"c":952,"d":1745,"e":4065},
{"t":-299.25,"a":678,"b":590,"c":925,"d":1815,"e":3985},
{"t":-296.25,"a":645,"b":645,"c":985,"d":1778,"e":4045},
{"t":-293.25,"a":732,"b":605,"c":902,"d":1832,"e":3975},
{"t":-290.25,"a":668,"b":580,"c":945,"d":1752,"e":4080},
{"t":-287.25,"a":702,"b":628,"c":968,"d":1798,"e":4020},
{"t":-284.25,"a":620,"b":612,"c":918,"d":1862,"e":3950},
{"t":-281.25,"a":690,"b":572,"c":952,"d":1770,"e":4105},
{"t":-278.25,"a":752,"b":638,"c":890,"d":1740,"e":4030},
{"t":-275.25,"a":675,"b":598,"c":975,"d":1825,"e":3960},
{"t":-272.25,"a":640,"b":622,"c":938,"d":1795,"e":4070},
{"t":-269.25,"a":712,"b":585,"c":912,"d":1762,"e":4015},
{"t":-266.25,"a":685,"b":655,"c":962,"d":1848,"e":3985},
{"t":-263.25,"a":635,"b":600,"c":925,"d":1790,"e":4110},
{"t":-260.25,"a":720,"b":575,"c":1002,"d":1735,"e":4040},
{"t":-257.25,"a":662,"b":630,"c":942,"d":1815,"e":3975},
{"t":-254.25,"a":698,"b":615,"c":905,"d":1858,"e":4055},
{"t":-251.25,"a":742,"b":588,"c":968,"d":1778,"e":4125},
{"t":-248.25,"a":658,"b":648,"c":930,"d":1742,"e":4000},
{"t":-245.25,"a":688,"b":605,"c":890,"d":1830,"e":3950},
{"t":-242.25,"a":615,"b":625,"c":958,"d":1805,"e":4085},
{"t":-239.25,"a":705,"b":580,"c":985,"d":1765,"e":4035},
{"t":-236.25,"a":672,"b":612,"c":918,"d":1872,"e":3968},
{"t":-233.25,"a":728,"b":652,"c":948,"d":1790,"e":4060},
{"t":-230.25,"a":650,"b":595,"c":975,"d":1752,"e":4120},
{"t":-227.25,"a":690,"b":620,"c":902,"d":1825,"e":3995},
{"t":-224.25,"a":738,"b":580,"c":945,"d":1798,"e":4040},
{"t":-221.25,"a":665,"b":640,"c":928,"d":1770,"e":4100},
{"t":-218.25,"a":628,"b":612,"c":990,"d":1852,"e":3980},
{"t":-215.25,"a":705,"b":598,"c":935,"d":1740,"e":4065},
{"t":-212.25,"a":682,"b":632,"c":905,"d":1812,"e":4015},
{"t":-209.25,"a":718,"b":610,"c":968,"d":1785,"e":4135},
{"t":-206.25,"a":645,"b":575,"c":948,"d":1842,"e":4040},
{"t":-203.25,"a":695,"b":640,"c":912,"d":1768,"e":3985},
{"t":-200.25,"a":758,"b":618,"c":958,"d":1808,"e":4075},
{"t":-197.25,"a":672,"b":592,"c":998,"d":1865,"e":4020},
{"t":-194.25,"a":702,"b":650,"c":930,"d":1782,"e":4115},
{"t":-191.25,"a":640,"b":605,"c":962,"d":1752,"e":4050},
{"t":-188.25,"a":685,"b":625,"c":915,"d":1830,"e":3990},
{"t":-185.25,"a":725,"b":588,"c":945,"d":1795,"e":4090},
{"t":-182.25,"a":660,"b":640,"c":985,"d":1768,"e":4145},
{"t":-179.25,"a":698,"b":615,"c":922,"d":1848,"e":4030},
{"t":-176.25,"a":630,"b":602,"c":958,"d":1812,"e":4075},
{"t":-173.25,"a":712,"b":632,"c":905,"d":1775,"e":4010},
{"t":-170.25,"a":675,"b":648,"c":942,"d":1860,"e":4105},
{"t":-167.25,"a":745,"b":598,"c":978,"d":1792,"e":4055},
{"t":-164.25,"a":688,"b":622,"c":935,"d":1752,"e":3998},
{"t":-161.25,"a":652,"b":612,"c":962,"d":1835,"e":4120},
{"t":-158.25,"a":720,"b":645,"c":912,"d":1805,"e":4068},
{"t":-155.25,"a":668,"b":590,"c":985,"d":1770,"e":4140},
{"t":-152.25,"a":700,"b":628,"c":948,"d":1878,"e":4035},
{"t":-149.25,"a":635,"b":608,"c":920,"d":1815,"e":4085},
{"t":-146.25,"a":692,"b":655,"c":962,"d":1788,"e":4020},
{"t":-143.25,"a":728,"b":615,"c":1000,"d":1845,"e":4110},
{"t":-140.25,"a":675,"b":598,"c":938,"d":1762,"e":4065},
{"t":-137.25,"a":705,"b":640,"c":912,"d":1830,"e":4150},
{"t":-134.25,"a":648,"b":622,"c":972,"d":1808,"e":4040},
{"t":-131.25,"a":690,"b":605,"c":948,"d":1858,"e":4095},
{"t":-128.25,"a":738,"b":645,"c":922,"d":1780,"e":4015},
{"t":-125.25,"a":670,"b":612,"c":985,"d":1822,"e":4125},
{"t":-122.25,"a":702,"b":595,"c":950,"d":1872,"e":4060},
{"t":-119.25,"a":642,"b":638,"c":918,"d":1798,"e":4100},
{"t":-116.25,"a":715,"b":620,"c":962,"d":1768,"e":4045},
{"t":-113.25,"a":680,"b":600,"c":940,"d":1835,"e":4135},
{"t":-110.25,"a":655,"b":648,"c":995,"d":1812,"e":4075},
{"t":-107.25,"a":725,"b":615,"c":925,"d":1788,"e":4020},
{"t":-104.25,"a":690,"b":632,"c":960,"d":1855,"e":4110},
{"t":-101.25,"a":718,"b":610,"c":938,"d":1822,"e":4055},
{"t":-98.25,"a":660,"b":648,"c":985,"d":1795,"e":4130},
{"t":-95.25,"a":700,"b":600,"c":918,"d":1862,"e":4080},
{"t":-92.25,"a":742,"b":632,"c":952,"d":1818,"e":4025},
{"t":-89.25,"a":675,"b":615,"c":905,"d":1785,"e":4115},
{"t":-86.25,"a":710,"b":588,"c":968,"d":1725,"e":4060},
{"t":-83.25,"a":648,"b":640,"c":942,"d":1842,"e":4140},
{"t":-80.25,"a":695,"b":622,"c":1005,"d":1810,"e":4035},
{"t":-77.25,"a":728,"b":605,"c":925,"d":1872,"e":4090},
{"t":-74.25,"a":665,"b":645,"c":960,"d":1795,"e":4150},
{"t":-71.25,"a":702,"b":618,"c":938,"d":1838,"e":4045},
{"t":-68.25,"a":758,"b":595,"c":915,"d":1780,"e":4110},
{"t":-65.25,"a":688,"b":635,"c":972,"d":1868,"e":4065},
{"t":-62.25,"a":745,"b":612,"c":945,"d":1822,"e":4020},
{"t":-59.25,"a":672,"b":640,"c":905,"d":1798,"e":4120},
{"t":-56.25,"a":625,"b":598,"c":958,"d":1845,"e":4010},
{"t":-53.25,"a":690,"b":628,"c":932,"d":1812,"e":4085},
{"t":-50.25,"a":712,"b":565,"c":975,"d":1880,"e":3930},
{"t":-47.25,"a":680,"b":600,"c":948,"d":1948,"e":4060},
{"t":-44.25,"a":735,"b":638,"c":912,"d":1822,"e":4130},
{"t":-41.25,"a":705,"b":660,"c":968,"d":1775,"e":4085},
{"t":-38.25,"a":662,"b":685,"c":985,"d":1840,"e":4150},
{"t":-35.25,"a":718,"b":628,"c":945,"d":1808,"e":4045},
{"t":-32.25,"a":645,"b":608,"c":922,"d":1855,"e":3990},
{"t":-29.25,"a":612,"b":632,"c":880,"d":1825,"e":4010},
{"t":-26.25,"a":760,"b":618,"c":942,"d":1790,"e":4115},
{"t":-23.25,"a":698,"b":648,"c":972,"d":1842,"e":4070},
{"t":-20.25,"a":725,"b":615,"c":948,"d":1815,"e":4135},
{"t":-17.25,"a":668,"b":632,"c":915,"d":1868,"e":4040},
{"t":-14.25,"a":705,"b":640,"c":968,"d":1762,"e":4085},
{"t":-11.25,"a":740,"b":612,"c":935,"d":1702,"e":4005},
{"t":-8.25,"a":690,"b":628,"c":962,"d":1808,"e":4120},
{"t":-5.25,"a":718,"b":655,"c":985,"d":1852,"e":4165},
{"t":-2.25,"a":768,"b":675,"c":1000,"d":1828,"e":4260},
{"t":0.75,"a":885,"b":775,"c":1050,"d":1865,"e":4470},
{"t":3.75,"a":760,"b":690,"c":995,"d":1840,"e":4275},
{"t":6.75,"a":698,"b":632,"c":958,"d":1812,"e":4130},
{"t":9.75,"a":728,"b":612,"c":942,"d":1845,"e":4095},
{"t":12.75,"a":670,"b":640,"c":985,"d":1790,"e":4150},
{"t":15.75,"a":712,"b":605,"c":952,"d":1832,"e":3955},
{"t":18.75,"a":655,"b":622,"c":1012,"d":1858,"e":4085},
{"t":21.75,"a":722,"b":645,"c":938,"d":1805,"e":4125},
{"t":24.75,"a":690,"b":610,"c":975,"d":1848,"e":4060},
{"t":27.75,"a":742,"b":632,"c":948,"d":1772,"e":4110},
{"t":30.75,"a":665,"b":598,"c":925,"d":1830,"e":4145},
{"t":33.75,"a":705,"b":640,"c":992,"d":1868,"e":4080},
{"t":36.75,"a":728,"b":615,"c":958,"d":1845,"e":4195},
{"t":39.75,"a":752,"b":645,"c":1020,"d":1958,"e":4335},
{"t":42.75,"a":695,"b":622,"c":948,"d":1858,"e":4140},
{"t":45.75,"a":672,"b":608,"c":982,"d":1815,"e":4090},
{"t":48.75,"a":715,"b":632,"c":925,"d":1835,"e":4150},
{"t":51.75,"a":790,"b":652,"c":965,"d":1852,"e":4240},
{"t":54.75,"a":702,"b":620,"c":990,"d":1798,"e":4105},
{"t":57.75,"a":668,"b":598,"c":938,"d":1825,"e":4160},
{"t":60.75,"a":722,"b":642,"c":975,"d":1862,"e":4075},
{"t":63.75,"a":688,"b":615,"c":1032,"d":1795,"e":4190},
{"t":66.75,"a":652,"b":648,"c":958,"d":1842,"e":4115},
{"t":69.75,"a":718,"b":628,"c":1000,"d":1818,"e":4060},
{"t":72.75,"a":745,"b":602,"c":1048,"d":1855,"e":4170},
{"t":75.75,"a":690,"b":625,"c":962,"d":1778,"e":4105},
{"t":78.75,"a":712,"b":640,"c":875,"d":1832,"e":4035},
{"t":81.75,"a":668,"b":612,"c":985,"d":1858,"e":4140},
{"t":84.75,"a":730,"b":635,"c":1012,"d":1810,"e":4090},
{"t":87.75,"a":698,"b":650,"c":965,"d":1942,"e":4195},
{"t":90.75,"a":655,"b":618,"c":938,"d":1845,"e":4110},
{"t":93.75,"a":715,"b":600,"c":1055,"d":1798,"e":4150},
{"t":96.75,"a":688,"b":640,"c":978,"d":1862,"e":4075},
{"t":99.75,"a":740,"b":622,"c":952,"d":1815,"e":4180},
{"t":102.75,"a":675,"b":648,"c":1000,"d":1785,"e":4110},
{"t":105.75,"a":712,"b":605,"c":968,"d":1870,"e":4055},
{"t":108.75,"a":662,"b":632,"c":925,"d":1825,"e":4150},
{"t":111.75,"a":725,"b":655,"c":995,"d":1852,"e":4125},
{"t":114.75,"a":698,"b":615,"c":1025,"d":1795,"e":4085},
{"t":117.75,"a":740,"b":638,"c":958,"d":1838,"e":4190},
{"t":120.75,"a":685,"b":570,"c":982,"d":1855,"e":4070},
{"t":123.75,"a":715,"b":620,"c":945,"d":1808,"e":4145},
{"t":126.75,"a":735,"b":645,"c":1008,"d":1845,"e":4210},
{"t":129.75,"a":815,"b":630,"c":978,"d":1862,"e":4355},
{"t":132.75,"a":752,"b":608,"c":1030,"d":1825,"e":4230},
{"t":135.75,"a":702,"b":640,"c":968,"d":1788,"e":4150},
{"t":138.75,"a":728,"b":622,"c":992,"d":1878,"e":4120},
{"t":141.75,"a":680,"b":638,"c":1058,"d":1835,"e":4195},
{"t":144.75,"a":715,"b":610,"c":962,"d":1810,"e":4140},
{"t":147.75,"a":692,"b":645,"c":985,"d":1858,"e":4090},
{"t":150.75,"a":648,"b":620,"c":938,"d":1795,"e":4010},
{"t":153.75,"a":720,"b":598,"c":978,"d":1830,"e":3900},
{"t":156.75,"a":700,"b":650,"c":965,"d":1825,"e":4160},
{"t":159.75,"a":685,"b":705,"c":1000,"d":1852,"e":4210},
{"t":162.75,"a":722,"b":618,"c":948,"d":1805,"e":4115},
{"t":165.75,"a":665,"b":632,"c":985,"d":1842,"e":4160},
{"t":168.75,"a":712,"b":605,"c":958,"d":1772,"e":4085},
{"t":171.75,"a":690,"b":640,"c":995,"d":1670,"e":4040},
{"t":174.75,"a":738,"b":625,"c":968,"d":1828,"e":4170},
{"t":177.75,"a":672,"b":612,"c":938,"d":1858,"e":4120},
{"t":180.75,"a":705,"b":638,"c":988,"d":1808,"e":4065},
{"t":183.75,"a":728,"b":618,"c":962,"d":1862,"e":4150},
{"t":186.75,"a":680,"b":598,"c":1005,"d":1832,"e":4110},
{"t":189.75,"a":712,"b":645,"c":950,"d":1795,"e":4140},
{"t":192.75,"a":665,"b":625,"c":978,"d":1840,"e":4090},
{"t":195.75,"a":725,"b":605,"c":1015,"d":1815,"e":4175},
{"t":198.75,"a":698,"b":648,"c":958,"d":1855,"e":4125},
{"t":201.75,"a":742,"b":620,"c":925,"d":1790,"e":4060},
{"t":204.75,"a":775,"b":632,"c":995,"d":1838,"e":4215},
{"t":207.75,"a":685,"b":612,"c":968,"d":1818,"e":4140},
{"t":210.75,"a":715,"b":635,"c":1000,"d":1778,"e":4095},
{"t":213.75,"a":670,"b":598,"c":948,"d":1872,"e":4165},
{"t":216.75,"a":728,"b":642,"c":978,"d":1832,"e":4080},
{"t":219.75,"a":695,"b":622,"c":942,"d":1805,"e":4190},
{"t":222.75,"a":735,"b":655,"c":1018,"d":1858,"e":4310},
{"t":225.75,"a":678,"b":612,"c":968,"d":1825,"e":4120},
{"t":228.75,"a":712,"b":628,"c":905,"d":1770,"e":4055},
{"t":231.75,"a":658,"b":645,"c":982,"d":1848,"e":4160},
{"t":234.75,"a":702,"b":612,"c":958,"d":1885,"e":4195},
{"t":237.75,"a":722,"b":598,"c":1000,"d":1812,"e":4105},
{"t":240.75,"a":688,"b":635,"c":945,"d":1785,"e":4040},
{"t":243.75,"a":632,"b":622,"c":972,"d":1840,"e":4120},
{"t":246.75,"a":705,"b":648,"c":932,"d":1855,"e":4085},
{"t":249.75,"a":692,"b":605,"c":978,"d":1808,"e":3900},
{"t":252.75,"a":740,"b":630,"c":958,"d":1848,"e":4360},
{"t":255.75,"a":682,"b":618,"c":1022,"d":1822,"e":4170},
{"t":258.75,"a":718,"b":640,"c":950,"d":1768,"e":4105},
{"t":261.75,"a":662,"b":602,"c":918,"d":1862,"e":4060},
{"t":264.75,"a":700,"b":630,"c":975,"d":1818,"e":4160},
{"t":267.75,"a":732,"b":648,"c":955,"d":1785,"e":4115},
{"t":270.75,"a":685,"b":615,"c":988,"d":1845,"e":4075},
{"t":273.75,"a":712,"b":592,"c":938,"d":1828,"e":4170},
{"t":276.75,"a":672,"b":632,"c":968,"d":1800,"e":4130},
{"t":279.75,"a":748,"b":642,"c":1008,"d":1862,"e":4330},
{"t":282.75,"a":695,"b":610,"c":952,"d":1815,"e":4110},
{"t":285.75,"a":720,"b":628,"c":915,"d":1770,"e":4055},
{"t":288.75,"a":665,"b":622,"c":982,"d":1838,"e":4145},
{"t":291.75,"a":625,"b":655,"c":958,"d":1892,"e":4095},
{"t":294.75,"a":765,"b":605,"c":1010,"d":1825,"e":4195},
{"t":297.75,"a":702,"b":625,"c":945,"d":1790,"e":4130},
{"t":300.75,"a":730,"b":642,"c":975,"d":1935,"e":4085},
{"t":303.75,"a":680,"b":612,"c":995,"d":1842,"e":4160},
{"t":306.75,"a":712,"b":595,"c":935,"d":1805,"e":4045},
{"t":309.75,"a":662,"b":630,"c":962,"d":1848,"e":4120},
{"t":312.75,"a":725,"b":645,"c":1000,"d":1825,"e":4150},
{"t":315.75,"a":690,"b":618,"c":948,"d":1778,"e":4070},
{"t":318.75,"a":752,"b":632,"c":978,"d":1882,"e":4175},
{"t":321.75,"a":675,"b":605,"c":928,"d":1830,"e":4100},
{"t":324.75,"a":710,"b":625,"c":988,"d":1805,"e":4250},
{"t":327.75,"a":665,"b":640,"c":955,"d":1840,"e":4140},
{"t":330.75,"a":722,"b":615,"c":1015,"d":1785,"e":4060},
{"t":333.75,"a":695,"b":598,"c":965,"d":1822,"e":4110},
{"t":336.75,"a":645,"b":632,"c":938,"d":1855,"e":4140},
{"t":339.75,"a":715,"b":650,"c":978,"d":1798,"e":4045},
{"t":342.75,"a":685,"b":618,"c":950,"d":1770,"e":4115},
{"t":345.75,"a":738,"b":605,"c":915,"d":1838,"e":4160},
{"t":348.75,"a":672,"b":640,"c":972,"d":1812,"e":4070},
{"t":351.75,"a":705,"b":625,"c":1005,"d":1862,"e":4130},
{"t":354.75,"a":655,"b":595,"c":945,"d":1790,"e":4010},
{"t":357.75,"a":718,"b":632,"c":965,"d":1828,"e":4095},
{"t":360.75,"a":690,"b":615,"c":932,"d":1775,"e":4130},
{"t":363.75,"a":728,"b":645,"c":982,"d":1845,"e":4060},
{"t":366.75,"a":668,"b":602,"c":952,"d":1802,"e":4110},
{"t":369.75,"a":698,"b":628,"c":995,"d":1760,"e":3880},
{"t":372.75,"a":722,"b":610,"c":942,"d":1825,"e":4080},
{"t":375.75,"a":625,"b":638,"c":962,"d":1852,"e":4035},
{"t":378.75,"a":708,"b":620,"c":918,"d":1795,"e":4120},
{"t":381.75,"a":680,"b":598,"c":958,"d":1815,"e":4065},
{"t":384.75,"a":730,"b":632,"c":980,"d":1770,"e":4010},
{"t":387.75,"a":665,"b":615,"c":945,"d":1835,"e":4100},
{"t":390.75,"a":702,"b":645,"c":965,"d":1800,"e":4050},
{"t":393.75,"a":742,"b":605,"c":925,"d":1860,"e":4140},
{"t":396.75,"a":685,"b":625,"c":970,"d":1782,"e":4030},
{"t":399.75,"a":650,"b":600,"c":940,"d":1805,"e":3975}
]},
"vconcat": [
{
 "width": 605, "height": 89.7,
 "title": {"text": "TH0", "anchor": "end", "frame": "group", "orient": "top", "baseline": "alphabetic", "offset": -15.4, "dy": 17.4, "dx": -8},
 "layer": [
  {"mark": {"type": "line", "color": "#ff0000", "strokeWidth": 1, "clip": true},
   "encoding": {
    "x": {"field": "t", "type": "quantitative", "scale": {"domain": [-521, 425], "nice": false, "zero": false}, "axis": {"orient": "bottom", "values": [-400, -200, 0, 200, 400], "tickSize": -7, "labels": false, "title": null}},
    "y": {"field": "a", "type": "quantitative", "scale": {"domain": [578, 883], "nice": false, "zero": false}, "axis": {"orient": "left", "values": [600, 700, 800], "format": "d", "tickSize": -7, "labelPadding": 17.6, "title": null}}}},
  {"mark": {"type": "line", "opacity": 0, "clip": true},
   "encoding": {
    "x": {"field": "t", "type": "quantitative", "scale": {"domain": [-521, 425], "nice": false, "zero": false}, "axis": {"orient": "top", "values": [-400, -200, 0, 200, 400], "tickSize": -7, "labels": false, "title": null}},
    "y": {"field": "a", "type": "quantitative", "scale": {"domain": [578, 883], "nice": false, "zero": false}, "axis": {"orient": "right", "values": [600, 700, 800], "tickSize": -7, "labels": false, "title": null}}}},
  {"mark": {"type": "line", "opacity": 0, "clip": true},
   "encoding": {
    "x": {"field": "t", "type": "quantitative", "scale": {"domain": [-521, 425], "nice": false, "zero": false}, "axis": {"orient": "bottom", "values": [-500, -300, -100, 100, 300], "tickSize": -3.5, "labels": false, "title": null}},
    "y": {"field": "a", "type": "quantitative", "scale": {"domain": [578, 883], "nice": false, "zero": false}, "axis": {"orient": "left", "values": [580, 620, 640, 660, 680, 720, 740, 760, 780, 820, 840, 860, 880], "tickSize": -3.5, "labels": false, "title": null}}}},
  {"mark": {"type": "line", "opacity": 0, "clip": true},
   "encoding": {
    "x": {"field": "t", "type": "quantitative", "scale": {"domain": [-521, 425], "nice": false, "zero": false}, "axis": {"orient": "top", "values": [-500, -300, -100, 100, 300], "tickSize": -3.5, "labels": false, "title": null}},
    "y": {"field": "a", "type": "quantitative", "scale": {"domain": [578, 883], "nice": false, "zero": false}, "axis": {"orient": "right", "values": [580, 620, 640, 660, 680, 720, 740, 760, 780, 820, 840, 860, 880], "tickSize": -3.5, "labels": false, "title": null}}}}
 ],
 "resolve": {"axis": {"x": "independent", "y": "independent"}}
},
{
 "width": 605, "height": 89.7,
 "title": {"text": "TH1", "anchor": "end", "frame": "group", "orient": "top", "baseline": "alphabetic", "offset": -15.4, "dy": 17.4, "dx": -9},
 "layer": [
  {"mark": {"type": "line", "color": "#00ff00", "strokeWidth": 1, "clip": true},
   "encoding": {
    "x": {"field": "t", "type": "quantitative", "scale": {"domain": [-521, 425], "nice": false, "zero": false}, "axis": {"orient": "bottom", "values": [-400, -200, 0, 200, 400], "tickSize": -7, "labels": false, "title": null}},
    "y": {"field": "b", "type": "quantitative", "scale": {"domain": [497, 788], "nice": false, "zero": false}, "axis": {"orient": "left", "values": [500, 600, 700], "format": "d", "tickSize": -7, "labelPadding": 17.6, "title": null}}}},
  {"mark": {"type": "line", "opacity": 0, "clip": true},
   "encoding": {
    "x": {"field": "t", "type": "quantitative", "scale": {"domain": [-521, 425], "nice": false, "zero": false}, "axis": {"orient": "top", "values": [-400, -200, 0, 200, 400], "tickSize": -7, "labels": false, "title": null}},
    "y": {"field": "b", "type": "quantitative", "scale": {"domain": [497, 788], "nice": false, "zero": false}, "axis": {"orient": "right", "values": [500, 600, 700], "tickSize": -7, "labels": false, "title": null}}}},
  {"mark": {"type": "line", "opacity": 0, "clip": true},
   "encoding": {
    "x": {"field": "t", "type": "quantitative", "scale": {"domain": [-521, 425], "nice": false, "zero": false}, "axis": {"orient": "bottom", "values": [-500, -300, -100, 100, 300], "tickSize": -3.5, "labels": false, "title": null}},
    "y": {"field": "b", "type": "quantitative", "scale": {"domain": [497, 788], "nice": false, "zero": false}, "axis": {"orient": "left", "values": [520, 540, 560, 580, 620, 640, 660, 680, 720, 740, 760, 780], "tickSize": -3.5, "labels": false, "title": null}}}},
  {"mark": {"type": "line", "opacity": 0, "clip": true},
   "encoding": {
    "x": {"field": "t", "type": "quantitative", "scale": {"domain": [-521, 425], "nice": false, "zero": false}, "axis": {"orient": "top", "values": [-500, -300, -100, 100, 300], "tickSize": -3.5, "labels": false, "title": null}},
    "y": {"field": "b", "type": "quantitative", "scale": {"domain": [497, 788], "nice": false, "zero": false}, "axis": {"orient": "right", "values": [520, 540, 560, 580, 620, 640, 660, 680, 720, 740, 760, 780], "tickSize": -3.5, "labels": false, "title": null}}}}
 ],
 "resolve": {"axis": {"x": "independent", "y": "independent"}}
},
{
 "width": 605, "height": 89.7,
 "title": {"text": "TH2", "anchor": "end", "frame": "group", "orient": "top", "baseline": "alphabetic", "offset": -15.4, "dy": 17.4, "dx": -8},
 "layer": [
  {"mark": {"type": "line", "color": "#0000ff", "strokeWidth": 1, "clip": true},
   "encoding": {
    "x": {"field": "t", "type": "quantitative", "scale": {"domain": [-521, 425], "nice": false, "zero": false}, "axis": {"orient": "bottom", "values": [-400, -200, 0, 200, 400], "tickSize": -7, "labels": false, "title": null}},
    "y": {"field": "c", "type": "quantitative", "scale": {"domain": [802, 1075], "nice": false, "zero": false}, "axis": {"orient": "left", "values": [900, 1000], "format": "d", "tickSize": -7, "labelPadding": 17.6, "title": "Counts/sec", "titleX": -61.3, "titleY": 42.5, "titleAlign": "center", "titleBaseline": "alphabetic", "titleAngle": 270}}}},
  {"mark": {"type": "line", "opacity": 0, "clip": true},
   "encoding": {
    "x": {"field": "t", "type": "quantitative", "scale": {"domain": [-521, 425], "nice": false, "zero": false}, "axis": {"orient": "top", "values": [-400, -200, 0, 200, 400], "tickSize": -7, "labels": false, "title": null}},
    "y": {"field": "c", "type": "quantitative", "scale": {"domain": [802, 1075], "nice": false, "zero": false}, "axis": {"orient": "right", "values": [900, 1000], "tickSize": -7, "labels": false, "title": null}}}},
  {"mark": {"type": "line", "opacity": 0, "clip": true},
   "encoding": {
    "x": {"field": "t", "type": "quantitative", "scale": {"domain": [-521, 425], "nice": false, "zero": false}, "axis": {"orient": "bottom", "values": [-500, -300, -100, 100, 300], "tickSize": -3.5, "labels": false, "title": null}},
    "y": {"field": "c", "type": "quantitative", "scale": {"domain": [802, 1075], "nice": false, "zero": false}, "axis": {"orient": "left", "values": [820, 840, 860, 880, 920, 940, 960, 980, 1020, 1040, 1060], "tickSize": -3.5, "labels": false, "title": null}}}},
  {"mark": {"type": "line", "opacity": 0, "clip": true},
   "encoding": {
    "x": {"field": "t", "type": "quantitative", "scale": {"domain": [-521, 425], "nice": false, "zero": false}, "axis": {"orient": "top", "values": [-500, -300, -100, 100, 300], "tickSize": -3.5, "labels": false, "title": null}},
    "y": {"field": "c", "type": "quantitative", "scale": {"domain": [802, 1075], "nice": false, "zero": false}, "axis": {"orient": "right", "values": [820, 840, 860, 880, 920, 940, 960, 980, 1020, 1040, 1060], "tickSize": -3.5, "labels": false, "title": null}}}}
 ],
 "resolve": {"axis": {"x": "independent", "y": "independent"}}
},
{
 "width": 605, "height": 89.7,
 "title": {"text": "TH3", "anchor": "end", "frame": "group", "orient": "top", "baseline": "alphabetic", "offset": -15.4, "dy": 17.4, "dx": -9},
 "layer": [
  {"mark": {"type": "line", "color": "#00ffff", "strokeWidth": 1, "clip": true},
   "encoding": {
    "x": {"field": "t", "type": "quantitative", "scale": {"domain": [-521, 425], "nice": false, "zero": false}, "axis": {"orient": "bottom", "values": [-400, -200, 0, 200, 400], "tickSize": -7, "labels": false, "title": null}},
    "y": {"field": "d", "type": "quantitative", "scale": {"domain": [1633, 1977], "nice": false, "zero": false}, "axis": {"orient": "left", "values": [1700, 1800, 1900], "format": "d", "tickSize": -7, "labelPadding": 17.6, "title": null}}}},
  {"mark": {"type": "line", "opacity": 0, "clip": true},
   "encoding": {
    "x": {"field": "t", "type": "quantitative", "scale": {"domain": [-521, 425], "nice": false, "zero": false}, "axis": {"orient": "top", "values": [-400, -200, 0, 200, 400], "tickSize": -7, "labels": false, "title": null}},
    "y": {"field": "d", "type": "quantitative", "scale": {"domain": [1633, 1977], "nice": false, "zero": false}, "axis": {"orient": "right", "values": [1700, 1800, 1900], "tickSize": -7, "labels": false, "title": null}}}},
  {"mark": {"type": "line", "opacity": 0, "clip": true},
   "encoding": {
    "x": {"field": "t", "type": "quantitative", "scale": {"domain": [-521, 425], "nice": false, "zero": false}, "axis": {"orient": "bottom", "values": [-500, -300, -100, 100, 300], "tickSize": -3.5, "labels": false, "title": null}},
    "y": {"field": "d", "type": "quantitative", "scale": {"domain": [1633, 1977], "nice": false, "zero": false}, "axis": {"orient": "left", "values": [1640, 1660, 1680, 1720, 1740, 1760, 1780, 1820, 1840, 1860, 1880, 1920, 1940, 1960], "tickSize": -3.5, "labels": false, "title": null}}}},
  {"mark": {"type": "line", "opacity": 0, "clip": true},
   "encoding": {
    "x": {"field": "t", "type": "quantitative", "scale": {"domain": [-521, 425], "nice": false, "zero": false}, "axis": {"orient": "top", "values": [-500, -300, -100, 100, 300], "tickSize": -3.5, "labels": false, "title": null}},
    "y": {"field": "d", "type": "quantitative", "scale": {"domain": [1633, 1977], "nice": false, "zero": false}, "axis": {"orient": "right", "values": [1640, 1660, 1680, 1720, 1740, 1760, 1780, 1820, 1840, 1860, 1880, 1920, 1940, 1960], "tickSize": -3.5, "labels": false, "title": null}}}}
 ],
 "resolve": {"axis": {"x": "independent", "y": "independent"}}
},
{
 "width": 605, "height": 89.7,
 "title": {"text": "TH0123", "anchor": "end", "frame": "group", "orient": "top", "baseline": "alphabetic", "offset": -15.4, "dy": 17.4, "dx": -3},
 "layer": [
  {"mark": {"type": "line", "color": "#ff00ff", "strokeWidth": 1, "clip": true},
   "encoding": {
    "x": {"field": "t", "type": "quantitative", "scale": {"domain": [-521, 425], "nice": false, "zero": false}, "axis": {"orient": "bottom", "values": [-400, -200, 0, 200, 400], "format": "d", "tickSize": -7, "labelPadding": 13, "title": "Time [sec] 0 = 2008/11/25 08:18:55", "titleX": 168.7, "titleY": 33.3, "titleAlign": "left", "titleBaseline": "alphabetic"}},
    "y": {"field": "e", "type": "quantitative", "scale": {"domain": [3745, 4482], "nice": false, "zero": false}, "axis": {"orient": "left", "values": [3800, 4000, 4200, 4400], "format": "d", "tickSize": -7, "labelPadding": 17.6, "title": null}}}},
  {"mark": {"type": "line", "opacity": 0, "clip": true},
   "encoding": {
    "x": {"field": "t", "type": "quantitative", "scale": {"domain": [-521, 425], "nice": false, "zero": false}, "axis": {"orient": "top", "values": [-400, -200, 0, 200, 400], "tickSize": -7, "labels": false, "title": null}},
    "y": {"field": "e", "type": "quantitative", "scale": {"domain": [3745, 4482], "nice": false, "zero": false}, "axis": {"orient": "right", "values": [3800, 4000, 4200, 4400], "tickSize": -7, "labels": false, "title": null}}}},
  {"mark": {"type": "line", "opacity": 0, "clip": true},
   "encoding": {
    "x": {"field": "t", "type": "quantitative", "scale": {"domain": [-521, 425], "nice": false, "zero": false}, "axis": {"orient": "bottom", "values": [-500, -300, -100, 100, 300], "tickSize": -3.5, "labels": false, "title": null}},
    "y": {"field": "e", "type": "quantitative", "scale": {"domain": [3745, 4482], "nice": false, "zero": false}, "axis": {"orient": "left", "values": [3900, 4100, 4300], "tickSize": -3.5, "labels": false, "title": null}}}},
  {"mark": {"type": "line", "opacity": 0, "clip": true},
   "encoding": {
    "x": {"field": "t", "type": "quantitative", "scale": {"domain": [-521, 425], "nice": false, "zero": false}, "axis": {"orient": "top", "values": [-500, -300, -100, 100, 300], "tickSize": -3.5, "labels": false, "title": null}},
    "y": {"field": "e", "type": "quantitative", "scale": {"domain": [3745, 4482], "nice": false, "zero": false}, "axis": {"orient": "right", "values": [3900, 4100, 4300], "tickSize": -3.5, "labels": false, "title": null}}}}
 ],
 "resolve": {"axis": {"x": "independent", "y": "independent"}}
}
]
}
